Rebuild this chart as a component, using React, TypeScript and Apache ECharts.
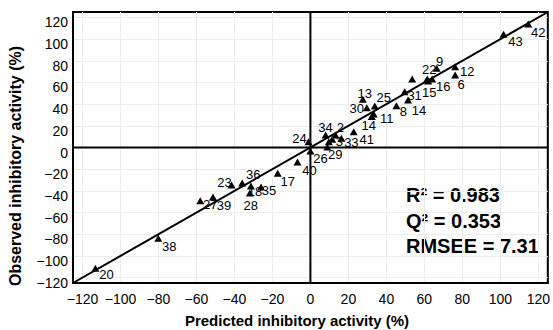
import React, { useEffect, useRef } from "react";
import * as echarts from "echarts";

// ---- data ----
const AXIS_MIN = -125;
const AXIS_MAX = 125;
const TICK_VALUES = [-120, -100, -80, -60, -40, -20, 0, 20, 40, 60, 80, 100, 120];

const compoundIds = [
  "42", "43", "9", "22", "15", "16", "", "12", "6", "31", "14", "8", "13", "30", "25", "11", "14",
  "41", "24", "34", "2", "", "3", "33", "29", "26", "40", "17", "36", "23", "18", "35", "28",
  "27", "39", "38", "20",
];
const predicted = [
  114.7, 101.7, 66.5, 61.5, 62.0, 64.1, 53.6, 76.2, 76.2, 49.6, 51.4, 45.3, 27.6, 29.7, 33.9, 33.3, 32.3,
  22.8, -1.0, 8.0, 13.2, 9.7, 11.5, 16.3, 8.9, 0.0, -6.8, -17.2, -35.9, -41.5, -31.3, -26.0, -31.9,
  -58.0, -51.3, -80.1, -113.2,
];
const observed = [
  113.9, 104.4, 73.1, 63.2, 61.3, 63.2, 63.2, 74.5, 66.9, 51.5, 43.8, 38.6, 44.5, 36.7, 38.3, 30.9, 28.6,
  14.6, 5.4, 11.5, 11.5, 5.4, 7.6, 8.5, 0.5, -3.2, -13.4, -23.8, -32.7, -34.6, -35.5, -36.4, -42.0,
  -49.1, -45.7, -83.8, -111.4,
];
const regressionLine = [
  [AXIS_MIN, AXIS_MIN],
  [AXIS_MAX, AXIS_MAX],
];
const statsLines = ["R\u00B2 = 0.983", "Q\u00B2 = 0.353", "RMSEE = 7.31"];
const xTitle = "Predicted inhibitory activity (%)";
const yTitle = "Observed inhibitory activity (%)";

// label placement (pixels, relative to each marker)
const LABEL_OFFSETS: number[][] = [
  [10, 8], [12, 7], [3, -7], [2, -9], [1, 11], [11, 8], [0, 0], [12, 5], [6, 10], [10, 4], [11, 10], [7, 6],
  [2, -6], [-10, 1], [9, -8], [13, 4], [-3, 9], [13, 8], [-9, -3], [0, -8], [5, -8], [0, 0], [7, 2],
  [10, 4], [8, 8], [10, 8], [12, 8], [10, 8], [11, -8], [-7, -3], [4, 6], [8, 4], [1, 12], [10, 4],
  [11, 8], [11, 8], [11, 6],
];

const FONT = "'Liberation Sans', Arial, Helvetica, sans-serif";

const fmt = (v: number) => (v < 0 ? "\u2212" + Math.abs(v) : String(v));

export default function App() {
  const ref = useRef<HTMLDivElement>(null);
  useEffect(() => {
    if (!ref.current) return;
    const chart = echarts.init(ref.current, undefined, { renderer: "svg" });
    const points = predicted.map((x, i) => ({
      name: compoundIds[i],
      value: [x, observed[i]],
      label: { offset: LABEL_OFFSETS[i] },
    }));
    const axisCommon = {
      type: "value" as const,
      min: AXIS_MIN,
      max: AXIS_MAX,
      axisLine: { show: true, onZero: false, lineStyle: { color: "#000", width: 2 } },
      axisTick: { show: false, customValues: TICK_VALUES },
      splitLine: { show: true, lineStyle: { color: "#ececec", width: 1 } },
    };
    chart.setOption({
      animation: false,
      backgroundColor: "#fff",
      grid: {
        left: 73,
        top: 12,
        width: 481,
        height: 271,
        show: true,
        borderColor: "#000",
        borderWidth: 2,
      },
      xAxis: {
        ...axisCommon,
        axisLabel: {
          customValues: TICK_VALUES,
          formatter: fmt,
          fontSize: 14,
          color: "#000",
          fontFamily: FONT,
          margin: 9,
        },
      },
      yAxis: {
        ...axisCommon,
        axisLabel: {
          customValues: TICK_VALUES,
          formatter: fmt,
          fontSize: 14,
          color: "#000",
          fontFamily: FONT,
          margin: 5,
          verticalAlign: "top",
          lineHeight: 10,
        },
      },
      series: [
        {
          type: "line",
          data: [[0, AXIS_MIN], [0, AXIS_MAX]],
          symbol: "none",
          silent: true,
          lineStyle: { color: "#000", width: 2 },
        },
        {
          type: "line",
          data: [[AXIS_MIN, 0], [AXIS_MAX, 0]],
          symbol: "none",
          silent: true,
          lineStyle: { color: "#000", width: 2 },
        },
        {
          type: "line",
          data: regressionLine,
          symbol: "none",
          silent: true,
          lineStyle: { color: "#000", width: 2 },
        },
        {
          type: "scatter",
          data: points,
          symbol: "triangle",
          symbolSize: [8, 7],
          itemStyle: { color: "#000", opacity: 1 },
          label: {
            show: true,
            position: "inside",
            formatter: "{b}",
            color: "#000",
            opacity: 1,
            textBorderWidth: 0,
            textBorderColor: "transparent",
            fontSize: 13,
            fontFamily: FONT,
            align: "center",
            verticalAlign: "middle",
          },
        },
      ],
      graphic: [
        {
          type: "text",
          x: 297,
          y: 320,
          style: {
            text: xTitle,
            font: `bold 15px ${FONT}`,
            fill: "#000",
            textAlign: "center",
            textVerticalAlign: "middle",
          },
        },
        {
          type: "text",
          x: 15,
          y: 166,
          rotation: Math.PI / 2,
          style: {
            text: yTitle,
            font: `bold 16px ${FONT}`,
            fill: "#000",
            textAlign: "center",
            textVerticalAlign: "middle",
          },
        },
        ...statsLines.map((t, i) => ({
          type: "text",
          x: 406,
          y: 195 + i * 25.5,
          style: {
            text: t,
            font: `bold 20px ${FONT}`,
            fill: "#000",
            textAlign: "left",
            textVerticalAlign: "middle",
          },
        })),
      ],
    });
    return () => chart.dispose();
  }, []);
  return (
    <div
      ref={ref}
      style={{ position: "absolute", left: 0, top: 0, width: 553, height: 330, background: "#fff" }}
    />
  );
}
